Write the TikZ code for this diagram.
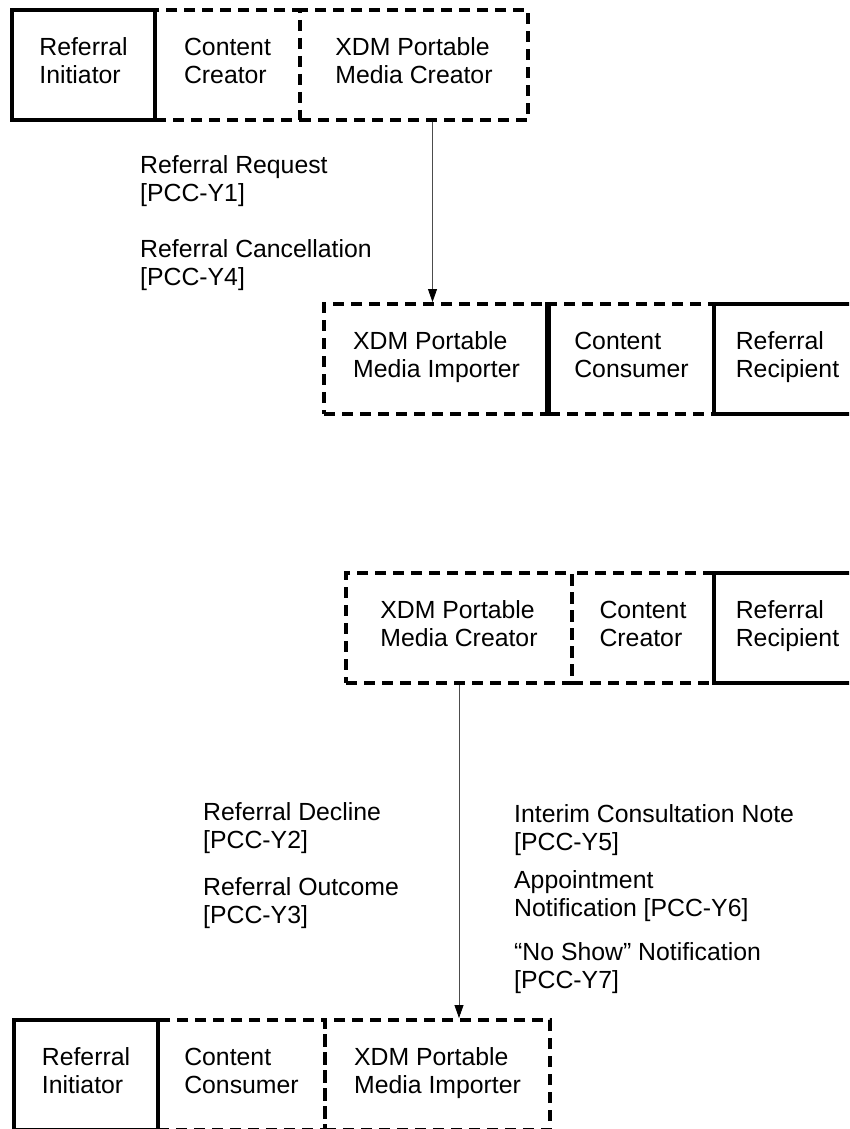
\documentclass[tikz,border=0pt]{standalone}
\usepackage{fontspec}
\setmainfont{Liberation Sans}
\usetikzlibrary{arrows.meta}

\tikzset{
  actor/.style={draw, line width=4pt, minimum height=110pt, inner sep=0pt,
    align=left, font=\fontsize{24.8}{28}\selectfont,
    execute at begin node=\strut, execute at end node=\strut},
  option/.style={actor, dash pattern=on 11pt off 7pt},
  msg/.style={draw=black!70, line width=0.8pt,
    -{Triangle[length=13pt,width=9pt,color=black]}},
  lbl/.style={anchor=north west, inner sep=0pt, align=left,
    font=\fontsize{24.8}{28}\selectfont}
}

\begin{document}
\begin{tikzpicture}[x=1pt,y=1pt,yscale=-1,xscale=1]
\clip (0,0) rectangle (849,1129);

%Group: request sender
\node[option, minimum width=145pt] (cc1) at (227.5,65) {Content\\Creator};
\node[option, minimum width=228pt] (pmc1) at (414,65) {XDM Portable\\Media Creator};
\node[actor, minimum width=143pt] (ini1) at (83.5,65) {Referral\\Initiator};

%Group: request receiver
\node[option, minimum width=225pt] (imp1) at (436.5,359) {XDM Portable\\Media Importer};
\node[option, minimum width=165pt] (cons1) at (631.5,359) {Content\\Consumer};
\draw[line width=4pt] (cons1.north west) -- (cons1.south west);
\node[actor, minimum width=147pt] (rec1) at (787.5,359) {Referral\\Recipient};

%Group: response sender
\node[option, minimum width=226pt] (pmc2) at (459,628) {XDM Portable\\Media Creator};
\node[option, minimum width=142pt] (cc2) at (643,628) {Content\\Creator};
\node[actor, minimum width=147pt] (rec2) at (787.5,628) {Referral\\Recipient};

%Group: response receiver
\node[option, minimum width=167pt] (cons2) at (241.5,1075) {Content\\Consumer};
\node[option, minimum width=225pt] (imp2) at (437.5,1075) {XDM Portable\\Media Importer};
\node[actor, minimum width=144pt] (ini2) at (86,1075) {Referral\\Initiator};

%Messages
\draw[msg] ([xshift=-4pt]imp1.north |- pmc1.south) -- ([xshift=-4pt]imp1.north);
\draw[msg] (pmc2.south) -- (pmc2.south |- imp2.north);

%Labels
\node[lbl] (req) at (140,155) {Referral Request\\{}[PCC-Y1]};
\node[lbl] (cancel) at (140,239) {Referral Cancellation\\{}[PCC-Y4]};
\node[lbl] (decline) at (203,802) {Referral Decline\\{}[PCC-Y2]};
\node[lbl] (outcome) at (203,877) {Referral Outcome\\{}[PCC-Y3]};
\node[lbl] (interim) at (514,804) {Interim Consultation Note\\{}[PCC-Y5]};
\node[lbl] (appt) at (514,870) {Appointment\\Notification [PCC-Y6]};
\node[lbl] (noshow) at (514,942) {“No Show” Notification\\{}[PCC-Y7]};

\end{tikzpicture}
\end{document}
